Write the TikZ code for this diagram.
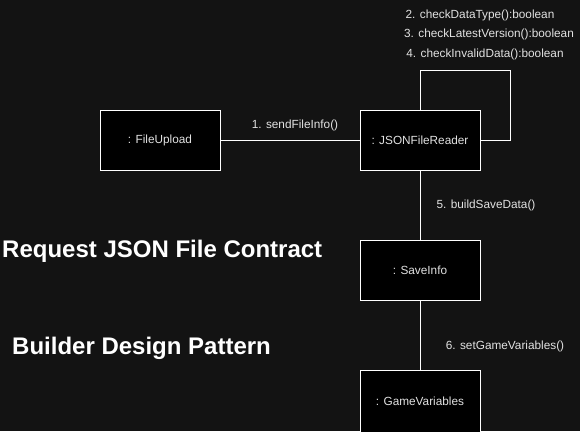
\documentclass[tikz,border=0pt]{standalone}
\usepackage{fontspec}
\setmainfont{Liberation Sans}
\begin{document}
\begin{tikzpicture}[x=1pt,y=-1pt,
  obj/.style={draw=white,fill=black,line width=1pt,minimum width=120pt,minimum height=60pt,inner sep=0pt,text=txtgray,font=\fontsize{11.8}{14}\selectfont},
  lbl/.style={text=txtgray,font=\fontsize{11.8}{14}\selectfont,inner sep=0pt},
  ttl/.style={text=white,font=\fontsize{24}{28}\selectfont\bfseries,inner sep=0pt},
  conn/.style={draw=white,line width=1pt}]
\definecolor{bgc}{HTML}{131313}
\definecolor{txtgray}{HTML}{E2E2E2}
\useasboundingbox[fill=bgc] (0,0) rectangle (580,431);
\clip (0,0) rectangle (580,431);
\node[obj] (fu) at (160,140) {: FileUpload};
\node[obj] (jr) at (420,140) {: JSONFileReader};
\node[obj] (si) at (420,270) {: SaveInfo};
\node[obj,minimum height=64pt] (gv) at (420,402) {\raisebox{2pt}{: GameVariables}};
\coordinate (l1) at (420,70);
\coordinate (l2) at (510,70);
\coordinate (l3) at (510,140);
\draw[conn] (fu) -- (jr);
\draw[conn] (jr.north) -- (l1) -- (l2) -- (l3) -- (jr.east);
\draw[conn] (jr) -- (si);
\draw[conn] (si) -- (gv);
\node[lbl] (t1) at (295,125) {1. sendFileInfo()};
\node[lbl] (t2) at (480,15) {2. checkDataType():boolean};
\node[lbl] (t3) at (489,34.5) {3. checkLatestVersion():boolean};
\node[lbl] (t4) at (485,54) {4. checkInvalidData():boolean};
\node[lbl] (t5) at (486,205) {5. buildSaveData()};
\node[lbl] (t6) at (505,346) {6. setGameVariables()};
\node[ttl,anchor=base west] (h1) at (2,257) {Request JSON File Contract};
\node[ttl,anchor=base west] (h2) at (12,354) {Builder Design Pattern};
\end{tikzpicture}
\end{document}
